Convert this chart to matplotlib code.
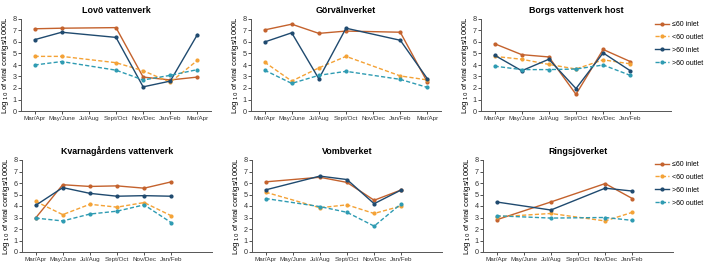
import numpy as np
import matplotlib
matplotlib.use("Agg")
import matplotlib.pyplot as plt

plt.rcParams['font.family'] = ['Liberation Sans', 'DejaVu Sans']

nan = np.nan
cats7 = ["Mar/Apr", "May/June", "Jul/Aug", "Sept/Oct", "Nov/Dec", "Jan/Feb", "Mar/Apr"]
cats6 = cats7[:6]

series_names = ["≤60 inlet", "<60 outlet", ">60 inlet", ">60 outlet"]

lovo_le60_in = [7.15, 7.2, nan, 7.25, 2.95, 2.7, 2.95]
lovo_lt60_out = [4.75, 4.75, nan, 4.2, 3.5, 2.5, 4.4]
lovo_gt60_in = [6.2, 6.85, nan, 6.4, 2.1, 2.6, 6.65]
lovo_gt60_out = [4.0, 4.3, nan, 3.55, 2.7, 3.1, 3.6]

gorv_le60_in = [7.05, 7.55, 6.75, 6.95, nan, 6.85, 2.5]
gorv_lt60_out = [4.25, 2.6, 3.75, 4.75, nan, 3.05, 2.7]
gorv_gt60_in = [6.0, 6.8, 2.8, 7.2, nan, 6.15, 2.8]
gorv_gt60_out = [3.55, 2.4, 3.1, 3.45, nan, 2.75, 2.05]

borg_le60_in = [5.85, 4.9, 4.7, 1.45, 5.35, 4.3]
borg_lt60_out = [4.75, 4.5, 4.05, 3.65, 4.45, 4.1]
borg_gt60_in = [4.85, 3.5, 4.5, 1.95, 5.05, 3.5]
borg_gt60_out = [3.9, 3.6, 3.6, 3.65, 4.0, 3.1]

kvar_le60_in = [2.95, 5.85, 5.7, 5.75, 5.55, 6.1]
kvar_lt60_out = [4.4, 3.25, 4.15, 3.9, 4.3, 3.15]
kvar_gt60_in = [4.05, 5.6, 5.1, 4.85, 4.9, 4.85]
kvar_gt60_out = [2.95, 2.7, 3.3, 3.55, 4.1, 2.55]

vomb_le60_in = [6.1, nan, 6.5, 6.05, 4.5, 5.4]
vomb_lt60_out = [5.2, nan, 3.85, 4.1, 3.35, 4.0]
vomb_gt60_in = [5.4, nan, 6.6, 6.3, 4.2, 5.4]
vomb_gt60_out = [4.65, nan, 3.95, 3.45, 2.25, 4.2]

ring_le60_in = [2.8, nan, 4.35, nan, 5.95, 4.65]
ring_lt60_out = [3.05, nan, 3.35, nan, 2.7, 3.45]
ring_gt60_in = [4.35, nan, 3.65, nan, 5.55, 5.3]
ring_gt60_out = [3.15, nan, 2.95, nan, 3.0, 2.75]

panels = [
    ("Lovö vattenverk", cats7, [lovo_le60_in, lovo_lt60_out, lovo_gt60_in, lovo_gt60_out]),
    ("Görvälnverket", cats7, [gorv_le60_in, gorv_lt60_out, gorv_gt60_in, gorv_gt60_out]),
    ("Borgs vattenverk host", cats6, [borg_le60_in, borg_lt60_out, borg_gt60_in, borg_gt60_out]),
    ("Kvarnagårdens vattenverk", cats6, [kvar_le60_in, kvar_lt60_out, kvar_gt60_in, kvar_gt60_out]),
    ("Vombverket", cats6, [vomb_le60_in, vomb_lt60_out, vomb_gt60_in, vomb_gt60_out]),
    ("Ringsjöverket", cats6, [ring_le60_in, ring_lt60_out, ring_gt60_in, ring_gt60_out]),
]

colors = ["#C4622D", "#F4A236", "#1F4A6F", "#2E9BB2"]
styles = ["-", (0, (3, 1.6)), "-", (0, (3, 1.6))]

W, H = 709, 264
fig = plt.figure(figsize=(W / 100, H / 100), dpi=100)

lefts = [[21, 251, 481], [22, 252, 483]]
bottoms_px = [111, 252]  # y pixel of value 0
height_px = 92
width_px = 190

axes = []
for r in range(2):
    for c in range(3):
        l = lefts[r][c] / W
        b = (H - bottoms_px[r]) / H
        ax = fig.add_axes([l, b, width_px / W, height_px / H])
        axes.append(ax)

handles = []
for ax, (title, cats, data) in zip(axes, panels):
    x = np.arange(len(cats))
    for i, ys in enumerate(data):
        ys = np.array(ys, dtype=float)
        m = ~np.isnan(ys)
        h, = ax.plot(x[m], ys[m], color=colors[i], linestyle=styles[i], lw=1.0,
                     marker='o', markersize=2.0, label=series_names[i])
        if ax is axes[0]:
            handles.append(h)
    ax.set_xlim(-0.5, 6.5)
    ax.set_ylim(0, 8)
    ax.set_yticks(range(0, 9))
    ax.set_xticks(x)
    ax.set_xticklabels(cats, fontsize=4.5)
    ax.tick_params(axis='y', labelsize=5.2, length=2, width=0.6, pad=1, colors='#333333')
    ax.tick_params(axis='x', length=2, width=0.6, pad=1.5, colors='#333333')
    for s in ['top', 'right']:
        ax.spines[s].set_visible(False)
    for s in ['left', 'bottom']:
        ax.spines[s].set_color('#555555')
        ax.spines[s].set_linewidth(0.7)
    ax.set_title(title, fontsize=6.4, fontweight='bold', pad=4)
    ax.set_ylabel(r'Log $_{10}$ of viral contigs/1000L', fontsize=5.5, labelpad=1.5)

for yy in [21, 161]:
    fig.legend(handles=handles, loc='upper left',
               bbox_to_anchor=(655 / W, 1 - yy / H),
               frameon=False, fontsize=5.0, handlelength=2.0, handletextpad=0.5,
               labelspacing=0.85, borderaxespad=0, borderpad=0)

fig.savefig("out.png", dpi=100)
